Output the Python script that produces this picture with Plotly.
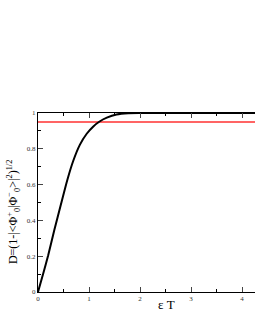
import plotly.graph_objects as go

# values
eps_T = [0, 0.1, 0.2, 0.32, 0.45, 0.575, 0.69, 0.82, 0.955, 1.085, 1.2, 1.35, 1.54, 1.77, 2.0, 2.5, 3.0, 3.5, 4.0, 4.3]
D_vals = [0, 0.1, 0.205, 0.346, 0.49, 0.626, 0.732, 0.822, 0.884, 0.925, 0.951, 0.974, 0.992, 0.999, 1.0, 1.0, 1.0, 1.0, 1.0, 1.0]
threshold_x = [0, 4.3]
threshold_y = [0.95, 0.95]

x_ticks = [0, 1, 2, 3, 4]
y_ticks = [0, 0.2, 0.4, 0.6, 0.8, 1]
y_tick_text = ["0", "0.2", "0.4", "0.6", "0.8", "1"]
x_title = "ε T"
y_title = "D=(1-|<Φ<sup>+</sup><sub>0</sub>|Φ<sup>−</sup><sub>0</sub>>|<sup>2</sup>)<sup>1/2</sup>"

fig = go.Figure()
fig.add_trace(go.Scatter(x=threshold_x, y=threshold_y, mode="lines",
                         line=dict(color="#ff3030", width=1.5), showlegend=False))
fig.add_trace(go.Scatter(x=eps_T, y=D_vals, mode="lines",
                         line=dict(color="black", width=2, shape="spline", smoothing=0.6),
                         showlegend=False))

tickfont = dict(family="Liberation Serif", size=7, color="#333")
fig.update_layout(
    width=255, height=330,
    margin=dict(l=38, r=0, t=113, b=38, autoexpand=False),
    paper_bgcolor="white", plot_bgcolor="white",
    font=dict(family="Liberation Serif", color="black"),
    xaxis=dict(range=[0, 4.255], tickvals=x_ticks, ticks="inside", ticklen=5,
               showline=True, linecolor="black", linewidth=1, mirror="allticks",
               showgrid=False, zeroline=False, tickfont=tickfont, automargin=False,
               minor=dict(ticks="inside", ticklen=3, dtick=0.5, tickcolor="black")),
    yaxis=dict(range=[0, 1], tickvals=y_ticks, ticktext=y_tick_text, ticks="inside", ticklen=5,
               showline=True, linecolor="black", linewidth=1, mirror=False,
               showgrid=False, zeroline=False, tickfont=tickfont, automargin=False,
               minor=dict(ticks="inside", ticklen=3, dtick=0.1, tickcolor="black")),
    annotations=[
        dict(text=x_title, xref="paper", yref="paper", x=0.59, y=-0.072,
             xanchor="center", yanchor="middle", showarrow=False,
             font=dict(size=13, family="Liberation Serif", color="black")),
        dict(text=y_title, xref="paper", yref="paper", x=-0.11, y=0.447,
             xanchor="center", yanchor="middle", showarrow=False, textangle=-90,
             font=dict(size=12, family="Liberation Serif", color="black")),
    ],
)
fig.write_html("out.html", config={"displayModeBar": False},
               post_script="document.body.style.margin='0';")
